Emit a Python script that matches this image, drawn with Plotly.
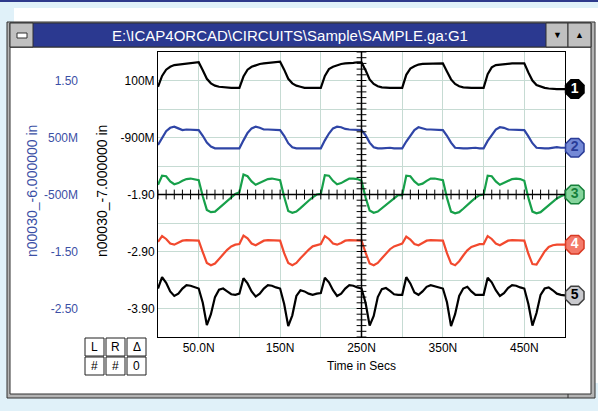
import numpy as np
import plotly.graph_objects as go

# ---------------- data ----------------
T = list(range(0, 505, 5))  # time in ns

V1 = [-0.01, 0.18, 0.29, 0.34, 0.37, 0.38, 0.39, 0.40, 0.41, 0.42, 0.42, 0.28, 0.13, 0.05, 0.01, -0.01, -0.02, -0.03, -0.03, -0.03,
      -0.03, 0.17, 0.29, 0.34, 0.37, 0.39, 0.40, 0.41, 0.42, 0.43, 0.43, 0.29, 0.13, 0.05, 0.01, -0.01, -0.03, -0.03, -0.03, -0.03,
      -0.03, 0.18, 0.30, 0.34, 0.37, 0.39, 0.40, 0.40, 0.41, 0.42, 0.42, 0.28, 0.12, 0.04, 0.00, -0.02, -0.03, -0.03, -0.03, -0.03,
      -0.03, 0.20, 0.31, 0.35, 0.38, 0.39, 0.39, 0.40, 0.40, 0.40, 0.40, 0.26, 0.12, 0.04, 0.00, -0.02, -0.03, -0.03, -0.03, -0.03,
      -0.03, 0.21, 0.33, 0.37, 0.38, 0.39, 0.39, 0.40, 0.40, 0.40, 0.40, 0.24, 0.10, 0.02, -0.01, -0.03, -0.04, -0.05, -0.05, -0.05,
      -0.05]

V2 = [-1.03, -0.90, -0.79, -0.73, -0.71, -0.74, -0.77, -0.76, -0.76, -0.76, -0.77, -0.87, -0.99, -1.06, -1.09, -1.09, -1.09, -1.09, -1.08, -1.09,
      -1.09, -0.95, -0.82, -0.74, -0.71, -0.73, -0.76, -0.76, -0.76, -0.76, -0.77, -0.87, -1.00, -1.07, -1.09, -1.09, -1.09, -1.08, -1.08, -1.09,
      -1.09, -0.95, -0.83, -0.74, -0.71, -0.72, -0.75, -0.76, -0.76, -0.76, -0.77, -0.86, -0.99, -1.07, -1.09, -1.09, -1.08, -1.08, -1.09, -1.09,
      -1.09, -0.97, -0.87, -0.77, -0.72, -0.74, -0.76, -0.76, -0.76, -0.76, -0.77, -0.87, -0.99, -1.08, -1.09, -1.09, -1.09, -1.08, -1.08, -1.09,
      -1.09, -0.96, -0.86, -0.76, -0.72, -0.73, -0.76, -0.76, -0.76, -0.76, -0.77, -0.88, -1.00, -1.08, -1.09, -1.09, -1.09, -1.08, -1.07, -1.08,
      -1.08]

V3 = [-1.73, -1.57, -1.58, -1.67, -1.72, -1.70, -1.66, -1.63, -1.62, -1.63, -1.65, -1.93, -2.17, -2.21, -2.20, -2.14, -2.08, -2.01, -1.95, -1.89,
      -1.86, -1.55, -1.58, -1.67, -1.73, -1.70, -1.66, -1.63, -1.62, -1.63, -1.65, -1.94, -2.19, -2.22, -2.20, -2.14, -2.07, -2.01, -1.95, -1.90,
      -1.89, -1.56, -1.57, -1.66, -1.72, -1.70, -1.66, -1.62, -1.62, -1.63, -1.66, -1.95, -2.18, -2.22, -2.20, -2.14, -2.08, -2.02, -1.96, -1.91,
      -1.91, -1.57, -1.58, -1.67, -1.73, -1.71, -1.66, -1.62, -1.62, -1.63, -1.65, -1.96, -2.20, -2.23, -2.21, -2.15, -2.08, -2.02, -1.96, -1.91,
      -1.90, -1.57, -1.58, -1.67, -1.73, -1.70, -1.66, -1.63, -1.62, -1.63, -1.66, -1.96, -2.20, -2.23, -2.21, -2.15, -2.09, -2.03, -1.97, -1.93,
      -1.90]

V4 = [-2.73, -2.63, -2.68, -2.76, -2.78, -2.75, -2.71, -2.70, -2.70, -2.71, -2.71, -2.91, -3.10, -3.14, -3.11, -3.03, -2.95, -2.87, -2.81, -2.78,
      -2.77, -2.62, -2.67, -2.76, -2.79, -2.75, -2.71, -2.70, -2.70, -2.71, -2.71, -2.93, -3.10, -3.14, -3.10, -3.02, -2.94, -2.87, -2.81, -2.79,
      -2.77, -2.63, -2.68, -2.76, -2.78, -2.75, -2.71, -2.70, -2.70, -2.71, -2.71, -2.92, -3.11, -3.14, -3.10, -3.02, -2.94, -2.86, -2.81, -2.78,
      -2.76, -2.64, -2.69, -2.77, -2.79, -2.75, -2.71, -2.70, -2.70, -2.71, -2.71, -2.93, -3.11, -3.14, -3.07, -2.97, -2.88, -2.82, -2.79, -2.77,
      -2.77, -2.63, -2.68, -2.76, -2.79, -2.75, -2.71, -2.70, -2.70, -2.71, -2.71, -2.94, -3.12, -3.13, -3.02, -2.90, -2.82, -2.79, -2.78, -2.78,
      -2.78]

V5 = [-3.55, -3.35, -3.45, -3.60, -3.68, -3.64, -3.55, -3.49, -3.50, -3.53, -3.55, -3.80, -4.19, -4.00, -3.70, -3.57, -3.55, -3.60, -3.65, -3.66,
      -3.64, -3.37, -3.46, -3.60, -3.69, -3.64, -3.55, -3.49, -3.50, -3.53, -3.55, -3.82, -4.21, -4.02, -3.68, -3.58, -3.60, -3.64, -3.66, -3.64,
      -3.63, -3.36, -3.44, -3.58, -3.68, -3.64, -3.55, -3.49, -3.50, -3.53, -3.55, -3.80, -4.20, -4.03, -3.70, -3.56, -3.54, -3.59, -3.65, -3.66,
      -3.66, -3.35, -3.46, -3.62, -3.66, -3.60, -3.52, -3.49, -3.51, -3.53, -3.55, -3.79, -4.21, -4.00, -3.68, -3.55, -3.52, -3.60, -3.66, -3.66,
      -3.66, -3.36, -3.44, -3.58, -3.68, -3.63, -3.54, -3.49, -3.50, -3.53, -3.55, -3.82, -4.20, -3.98, -3.66, -3.55, -3.53, -3.58, -3.64, -3.66,
      -3.67]

SERIES = [V1, V2, V3, V4, V5]
SERIES_COLORS = ["#000000", "#2f45a6", "#17a04a", "#f2492e", "#000000"]
MARK_LABELS = ["1", "2", "3", "4", "5"]
MARK_FILLS = ["#000000", "#7489d6", "#86d49c", "#f47a6a", "#c9c9cd"]
MARK_TEXT = ["#ffffff", "#2a3c98", "#16803a", "#ffffff", "#000000"]
MARK_EDGE = ["#000000", "#2a3c98", "#16803a", "#d83a24", "#404040"]

X_TICKS = [50, 150, 250, 350, 450]
X_LABELS = ["50.0N", "150N", "250N", "350N", "450N"]
X_MINOR = [100, 200, 300, 400]

Y_TICKS = [0.1, -0.9, -1.9, -2.9, -3.9]
Y_LABELS = ["100M", "-900M", "-1.90", "-2.90", "-3.90"]
Y_MINOR = [-0.4, -1.4, -2.4, -3.4]

Y2_TICKS = [1.5, 0.5, -0.5, -1.5, -2.5]
Y2_LABELS = ["1.50", "500M", "-500M", "-1.50", "-2.50"]

X_RANGE = [0, 500]
Y_RANGE = [-4.4, 0.6]
Y2_RANGE = [-3.0, 2.0]
CROSS_T = 250
CROSS_V = -1.9
MARK_T = 512

TITLE = "E:\\ICAP4ORCAD\\CIRCUITS\\Sample\\SAMPLE.ga:G1"
Y1_TITLE = "n00030_-7.000000 in"
Y2_TITLE = "n00030_-6.000000 in"
X_TITLE = "Time in Secs"
BUTTONS = [["L", "R", "\u0394"], ["#", "#", "0"]]

# ---------------- layout helpers ----------------
W, H = 598, 411
ML, MR, MT, MB = 20, 0, 52, 74
PW = W - ML - MR
PH = H - MT - MB
PLOT_L, PLOT_R = 158, 565
FONT = "Liberation Sans, Arial, sans-serif"
BLUE_TXT = "#3b4fa5"
GRID = "#c6dbd3"


def px(x):
    return (x - ML) / PW


def py(y):
    return (H - MB - y) / PH


fig = go.Figure()

for vals, col in zip(SERIES, SERIES_COLORS):
    fig.add_trace(go.Scatter(x=T, y=vals, mode="lines",
                             line=dict(color=col, width=2.2), hoverinfo="skip"))

# crosshair tick marks
ht = list(np.arange(X_RANGE[0], X_RANGE[1] + 1, 10))
fig.add_trace(go.Scatter(x=ht, y=[CROSS_V] * len(ht), mode="markers",
                         marker=dict(symbol="line-ns", size=7, line=dict(color="black", width=1)),
                         hoverinfo="skip"))
vt = list(np.arange(Y_RANGE[0], Y_RANGE[1] + 0.001, 0.1))
fig.add_trace(go.Scatter(x=[CROSS_T] * len(vt), y=vt, mode="markers",
                         marker=dict(symbol="line-ew", size=7, line=dict(color="black", width=1)),
                         hoverinfo="skip", cliponaxis=False))

# end markers on a wider, hidden x axis with the same scale
x2_max = X_RANGE[1] * (W - PLOT_L) / (PLOT_R - PLOT_L)
fig.add_trace(go.Scatter(
    x=[MARK_T] * 5, y=[s[-1] for s in SERIES], mode="markers+text",
    xaxis="x2", yaxis="y3",
    text=MARK_LABELS, textposition="middle center",
    textfont=dict(family=FONT, size=14, color=MARK_TEXT, weight="bold"),
    marker=dict(symbol="octagon", size=20, color=MARK_FILLS,
                line=dict(color=MARK_EDGE, width=1.5)),
    hoverinfo="skip"))

shapes = []
shapes.append(dict(type="rect", xref="paper", yref="paper", x0=px(14), x1=px(598), y0=py(383), y1=py(8),
                   fillcolor="white", line=dict(width=0), layer="below"))
shapes.append(dict(type="rect", xref="paper", yref="paper", x0=px(0), x1=px(598), y0=py(2), y1=py(0),
                   fillcolor="#2e3a8c", line=dict(width=0), layer="below"))
shapes.append(dict(type="rect", xref="paper", yref="paper", x0=px(7), x1=px(595), y0=py(398), y1=py(22),
                   fillcolor="#b4b4b4", line=dict(color="#303030", width=1), layer="below"))
shapes.append(dict(type="rect", xref="paper", yref="paper", x0=px(10), x1=px(591), y0=py(394), y1=py(47),
                   fillcolor="white", line=dict(color="#303030", width=1), layer="below"))
shapes.append(dict(type="rect", xref="paper", yref="paper", x0=px(10), x1=px(591), y0=py(47), y1=py(23),
                   fillcolor="#2b3990", line=dict(color="#303030", width=1), layer="below"))
for x0, x1 in [(10, 33), (546, 568), (568, 591)]:
    shapes.append(dict(type="rect", xref="paper", yref="paper", x0=px(x0), x1=px(x1), y0=py(47), y1=py(23),
                       fillcolor="#c0c0c0", line=dict(color="#303030", width=1), layer="below"))
shapes.append(dict(type="rect", xref="paper", yref="paper", x0=px(17), x1=px(27), y0=py(38), y1=py(33),
                   fillcolor="white", line=dict(color="#303030", width=1), layer="below"))
shapes.append(dict(type="line", xref="paper", yref="paper", x0=px(568), x1=px(568), y0=py(398), y1=py(394),
                   line=dict(color="#303030", width=1), layer="below"))
shapes.append(dict(type="rect", xref="paper", yref="paper", x0=px(PLOT_L), x1=px(PLOT_R), y0=0, y1=1,
                   fillcolor="white", line=dict(width=0), layer="below"))
# crosshair axes
shapes.append(dict(type="line", xref="x", yref="paper", x0=CROSS_T, x1=CROSS_T, y0=0, y1=1,
                   line=dict(color="black", width=1.5)))
shapes.append(dict(type="line", xref="paper", yref="y", x0=px(PLOT_L), x1=px(PLOT_R), y0=CROSS_V, y1=CROSS_V,
                   line=dict(color="black", width=1.5)))

annotations = []


def ann(text, x, y, **kw):
    d = dict(text=text, xref="paper", yref="paper", x=px(x), y=py(y), showarrow=False,
             xanchor="center", yanchor="middle")
    d.update(kw)
    annotations.append(d)


ann(TITLE, 290, 35, font=dict(family=FONT, size=15, color="white"))
ann("\u25BC", 557, 35, font=dict(size=9, color="black"))
ann("\u25B2", 579.5, 35, font=dict(size=9, color="black"))
ann(Y2_TITLE, 32, 191, textangle=-90, font=dict(family=FONT, size=14, color=BLUE_TXT))
ann(Y1_TITLE, 102, 191, textangle=-90, font=dict(family=FONT, size=14, color="black"))
ann(X_TITLE, 361, 366, font=dict(family=FONT, size=12, color="black"))

for r, row in enumerate(BUTTONS):
    for c, lab in enumerate(row):
        x0 = 85 + c * 21
        y0 = 338 + r * 19
        shapes.append(dict(type="rect", xref="paper", yref="paper", x0=px(x0), x1=px(x0 + 19),
                           y0=py(y0 + 18), y1=py(y0), fillcolor="white",
                           line=dict(color="#202020", width=1)))
        ann(lab, x0 + 9.5, y0 + 9, font=dict(family=FONT, size=12, color="black"))

fig.update_layout(
    width=W, height=H,
    margin=dict(l=ML, r=MR, t=MT, b=MB, pad=0),
    paper_bgcolor="#e0f1f9",
    plot_bgcolor="rgba(0,0,0,0)",
    showlegend=False,
    shapes=shapes,
    annotations=annotations,
    font=dict(family=FONT, size=12, color="black"),
    xaxis=dict(domain=[px(PLOT_L), px(PLOT_R)], range=X_RANGE, tickmode="array", tickvals=X_TICKS,
               ticktext=X_LABELS, showgrid=True, gridcolor=GRID, gridwidth=1, zeroline=False, ticks="",
               showline=True, linecolor="black", linewidth=1, mirror=True,
               minor=dict(tickvals=X_MINOR, showgrid=True, gridcolor=GRID, gridwidth=1, ticks=""),
               tickfont=dict(family=FONT, size=12, color="black")),
    yaxis=dict(range=Y_RANGE, tickmode="array", tickvals=Y_TICKS, ticktext=Y_LABELS,
               showgrid=True, gridcolor=GRID, gridwidth=1, zeroline=False, ticks="",
               showline=True, linecolor="black", linewidth=1, mirror=True,
               minor=dict(tickvals=Y_MINOR, showgrid=True, gridcolor=GRID, gridwidth=1, ticks=""),
               tickfont=dict(family=FONT, size=12, color="black")),
    yaxis2=dict(overlaying="y", anchor="free", position=px(78), side="left", range=Y2_RANGE,
                tickmode="array", tickvals=Y2_TICKS, ticktext=Y2_LABELS, showgrid=False,
                zeroline=False, ticks="", showline=False,
                tickfont=dict(family=FONT, size=12, color=BLUE_TXT)),
    xaxis2=dict(domain=[px(PLOT_L), 1], range=[X_RANGE[0], x2_max], visible=False, anchor="y3",
                showgrid=False, zeroline=False),
    yaxis3=dict(domain=[0, 1], range=Y_RANGE, visible=False, anchor="x2", showgrid=False, zeroline=False),
)

fig.add_trace(go.Scatter(x=[None], y=[None], yaxis="y2", showlegend=False, hoverinfo="skip"))

fig.write_html("out.html", config={"displayModeBar": False},
               post_script="document.body.style.margin='0px';document.body.style.padding='0px';")
